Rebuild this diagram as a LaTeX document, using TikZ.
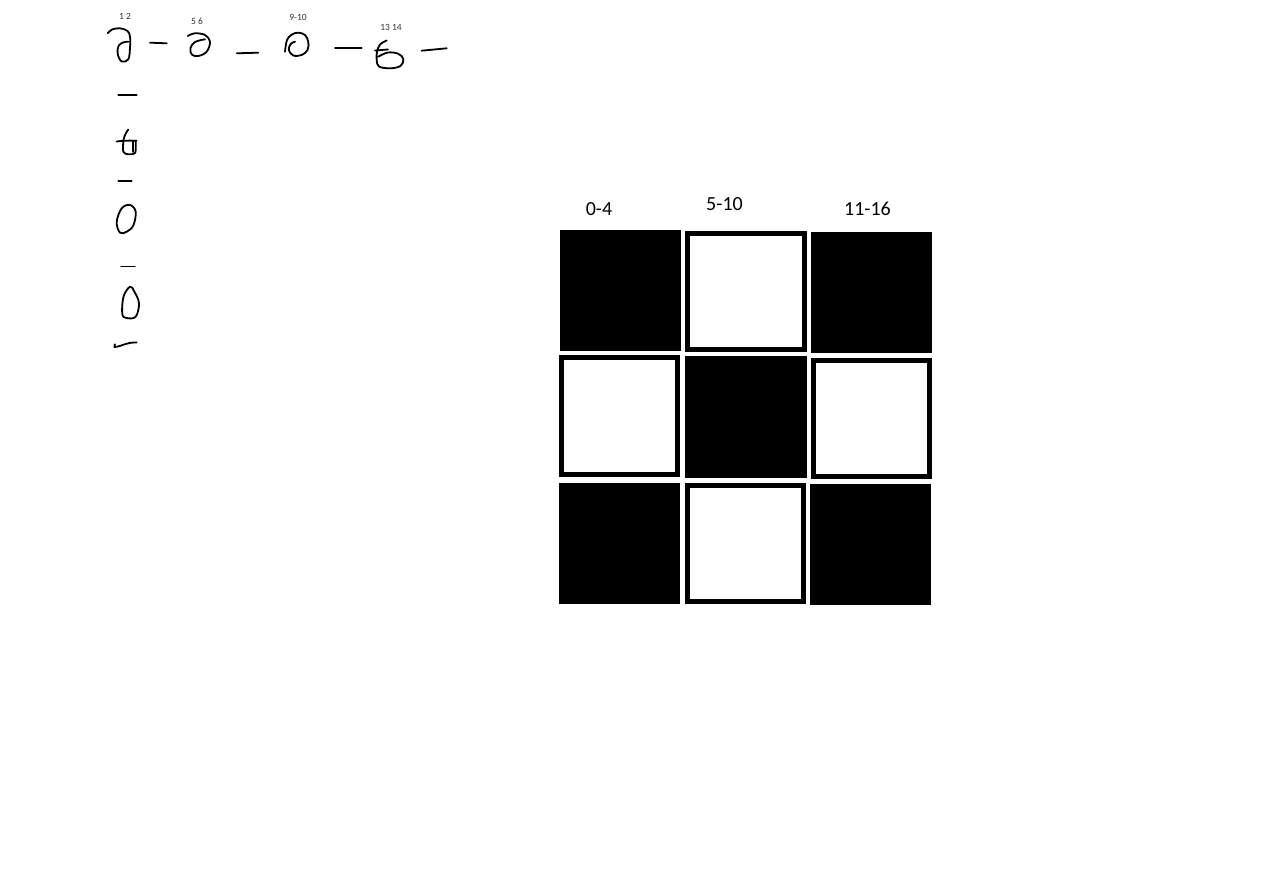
\documentclass[tikz,border=0pt]{standalone}
\usepackage{fontspec}
\setmainfont{Carlito}
\begin{document}
\begin{tikzpicture}[x=1pt,y=-1pt,
  blackcell/.style={fill=black,draw=none,minimum width=#1,minimum height=#1,inner sep=0pt},
  whitecell/.style={fill=white,draw=black,line width=5pt,minimum width=#1,minimum height=#1,inner sep=0pt},
  collabel/.style={font=\fontsize{20}{24}\selectfont,inner sep=0pt,anchor=center},
  tinylabel/.style={font=\fontsize{9.5}{11}\selectfont,text=black!80,inner sep=0pt,anchor=center},
  ink/.style={line width=1.8pt,line cap=round,line join=round}]
\useasboundingbox[fill=white] (0,0) rectangle (1268,874);

% grid
\node[blackcell=121] (c11) at (620.5,290.5) {};
\node[whitecell=116.5] (c12) at (746,291.5) {};
\node[blackcell=121] (c13) at (871.5,292.5) {};
\node[whitecell=116.5] (c21) at (619.5,416) {};
\node[blackcell=122] (c22) at (746,417) {};
\node[whitecell=116.5] (c23) at (871.5,418.5) {};
\node[blackcell=121] (c31) at (619.5,543.5) {};
\node[whitecell=116.5] (c32) at (745.5,543.5) {};
\node[blackcell=121] (c33) at (870.5,544.5) {};

\node[collabel] (l1) at (599,209.5) {0-4};
\node[collabel] (l2) at (724.5,204.5) {5-10};
\node[collabel] (l3) at (867.5,209) {11-16};

% tiny labels
\node[tinylabel] (t1) at (125,16) {1 2};
\node[tinylabel] (t2) at (197,21) {5 6};
\node[tinylabel] (t3) at (298,17) {9-10};
\node[tinylabel] (t4) at (391,27) {13 14};

% hand-drawn top row
\draw[ink] plot[smooth,tension=0.6] coordinates {(107.7,33.3) (112,29.5) (120,28.3) (127.5,31) (130,36.7) (130,48) (128.3,59.3) (121.7,61.5) (117.7,54) (118.5,46) (123,42.5) (128.3,41.7)};
\draw[ink] (150,42.7) -- (166.7,43.3);
\draw[ink] plot[smooth,tension=0.6] coordinates {(187.7,36) (195,33.3) (205,35) (210,41.7) (206.7,51.7) (198.3,56) (191.7,54.5) (190.5,48) (195,42) (205,39.3)};
\draw[ink] (236.7,53.3) -- (258.3,52.7);
\draw[ink] plot[smooth,tension=0.6] coordinates {(285,51.7) (287,40) (292,34.5) (298.3,32.7) (305,35) (308.3,42) (307.5,50) (301.7,55) (293.3,55.5) (288.8,50) (290.7,44) (295,41.7)};
\draw[ink] (335,48.3) -- (361.7,48.3);
\draw[ink] plot[smooth,tension=0.6] coordinates {(386.7,40.5) (380,44.5) (377,52) (376.7,60) (379,66.5) (390,68.3) (400.5,66) (403.3,59) (398.3,53.8) (388,52.5) (378.3,56.7)};
\draw[ink] (375,50.5) -- (388,49.5);
\draw[ink] (421.7,50.7) -- (446.7,48.3);

% hand-drawn column
\draw[ink] (118.3,95) -- (136.7,95);
\draw[ink] plot[smooth,tension=0.5] coordinates {(128.3,129.5) (125.5,134) (123.5,140) (123.3,151.7) (128.3,154.3) (135,153) (135.7,146) (135.7,140.5)};
\draw[ink] (116.7,141.5) .. controls (122,140.5) and (130,140.5) .. (136.5,140.8);
\draw[ink] (133,140.5) -- (133,152);
\draw[ink] (118.3,181) -- (131.7,181);
\draw[ink] plot[smooth cycle,tension=0.6] coordinates {(135.7,211.7) (130,205) (121.7,208.3) (116.7,222) (120,232.7) (126.7,231.7) (133.3,225.5)};
\draw[ink,line width=1.2pt] (121,266.7) -- (135,266.7);
\draw[ink] plot[smooth cycle,tension=0.6] coordinates {(130,286.7) (123.5,296.7) (122.3,314) (126.7,318) (135.7,316.7) (139,303.3) (134.3,291.5)};
\draw[ink] plot[smooth,tension=0.6] coordinates {(115,344.3) (114.6,347) (120,345.9) (125,344.2) (130,342.9) (136.7,342.4)};
\end{tikzpicture}
\end{document}
